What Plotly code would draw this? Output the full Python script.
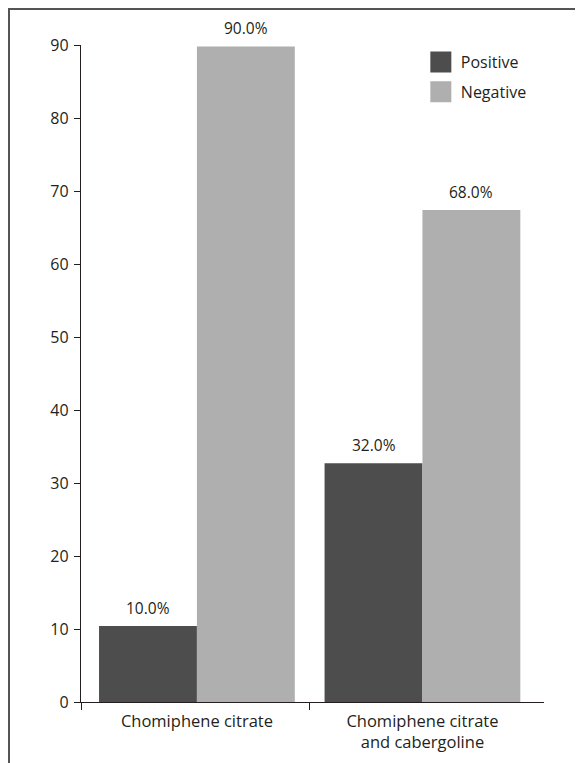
import plotly.graph_objects as go

categories = ["Chomiphene citrate", "Chomiphene citrate<br>and cabergoline"]
positive = [10.4, 32.7]
negative = [89.8, 67.4]
positive_labels = ["10.0%", "32.0%"]
negative_labels = ["90.0%", "68.0%"]
y_ticks = [0, 10, 20, 30, 40, 50, 60, 70, 80, 90]

DARK = "#4d4d4d"
LIGHT = "#afafaf"
INK = "#231f20"
FONT = "Open Sans"

xr = [-0.514, 1.539]
BARGAP = 0.132
half = (1 - BARGAP) / 4  # offset of each bar centre from its category centre

fig = go.Figure()
fig.add_trace(go.Bar(x=categories, y=positive, name="Positive", marker_color=DARK,
                     marker_line_width=0, showlegend=False, legendgroup="p"))
fig.add_trace(go.Bar(x=categories, y=negative, name="Negative", marker_color=LIGHT,
                     marker_line_width=0, showlegend=False, legendgroup="n"))
# legend entries
fig.add_trace(go.Scatter(x=[None], y=[None], mode="markers", name="Positive", legendgroup="p",
                         marker=dict(symbol="square", size=16, color=DARK, line=dict(color=DARK, width=5))))
fig.add_trace(go.Scatter(x=[None], y=[None], mode="markers", name="Negative", legendgroup="n",
                         marker=dict(symbol="square", size=16, color=LIGHT, line=dict(color=LIGHT, width=5))))
# overlay axis for the boundary ticks
fig.add_trace(go.Scatter(x=[None], y=[None], xaxis="x2", showlegend=False, hoverinfo="skip"))

annotations = []
for i in range(len(categories)):
    annotations.append(dict(x=i - half, y=positive[i], xref="x2", yref="y", text=positive_labels[i],
                            showarrow=False, yanchor="bottom", yshift=5,
                            font=dict(size=15.5, color=INK, family=FONT)))
    annotations.append(dict(x=i + half, y=negative[i], xref="x2", yref="y", text=negative_labels[i],
                            showarrow=False, yanchor="bottom", yshift=5,
                            font=dict(size=15.5, color=INK, family=FONT)))

fig.update_layout(
    width=583, height=763,
    margin=dict(l=73, r=47, t=37, b=69),
    paper_bgcolor="white", plot_bgcolor="white",
    font=dict(family=FONT, color=INK, size=16),
    barmode="group", bargap=BARGAP, bargroupgap=0,
    showlegend=True,
    legend=dict(x=0.734, y=1.0, xanchor="left", yanchor="top",
                font=dict(size=16, color=INK, family=FONT), tracegroupgap=6,
                itemsizing="trace", bgcolor="rgba(0,0,0,0)"),
    xaxis=dict(type="category", range=xr, showline=True, linecolor=INK, linewidth=1.3,
               ticks="", showgrid=False, zeroline=False, ticklabelstandoff=4,
               tickfont=dict(size=16.5, color=INK, family=FONT)),
    xaxis2=dict(overlaying="x", anchor="y", side="bottom", range=xr,
                tickvals=[xr[0], 0.5], ticks="outside", ticklen=7, tickwidth=1.3,
                tickcolor=INK, showticklabels=False, showline=False, showgrid=False,
                zeroline=False),
    yaxis=dict(range=[0, 90], tickvals=y_ticks, ticks="outside", ticklen=6,
               tickwidth=1.3, tickcolor=INK, showline=True, linecolor=INK, linewidth=1.3,
               showgrid=False, zeroline=False, ticklabelstandoff=2,
               tickfont=dict(size=16, color=INK, family=FONT)),
    annotations=annotations,
    shapes=[dict(type="rect", xref="paper", yref="paper",
                 x0=(1 - 73) / 463, x1=1.3, y0=-0.3, y1=(694 - 1) / 657,
                 line=dict(color="#555555", width=2), fillcolor="rgba(0,0,0,0)", layer="below")],
)

fig.write_html("out.html")
